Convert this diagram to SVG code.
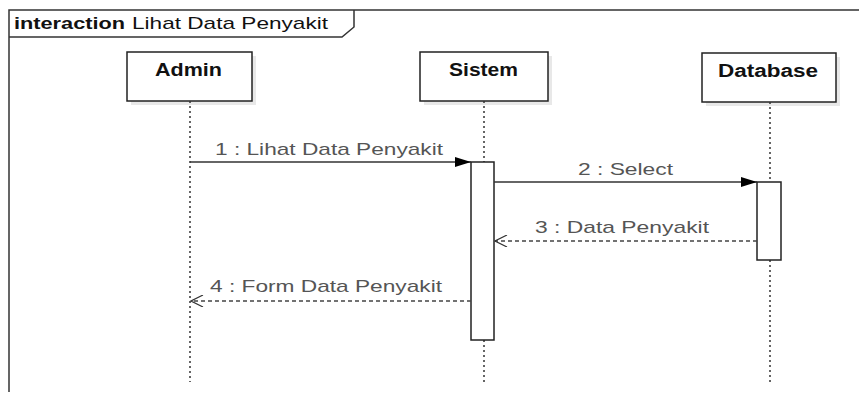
<svg xmlns="http://www.w3.org/2000/svg" width="859" height="396" viewBox="0 0 859 396">
  <defs>
    <marker id="filled" markerWidth="16" markerHeight="10" refX="16" refY="5" orient="auto" markerUnits="userSpaceOnUse">
      <path d="M0,0 L16,5 L0,10 Z" fill="#000"/>
    </marker>
    <marker id="open" markerWidth="14" markerHeight="12" refX="13" refY="6" orient="auto" markerUnits="userSpaceOnUse">
      <path d="M1,0 L13,6 L1,12" fill="none" stroke="#333" stroke-width="1.2"/>
    </marker>
  </defs>
  <style>
    .frame { fill: none; stroke: #333; stroke-width: 1.5; }
    .box { fill: #fff; stroke: #222; stroke-width: 1.5; }
    .shadow { fill: #e8e8e8; }
    .life { stroke: #333; stroke-width: 1.5; stroke-dasharray: 2 3; fill: none; }
    .act { fill: #fff; stroke: #222; stroke-width: 1.5; }
    .msg { stroke: #333; stroke-width: 1.3; fill: none; }
    .ret { stroke: #444; stroke-width: 1.3; fill: none; stroke-dasharray: 4 3; }
    .name { font-family: "Liberation Sans", Arial, sans-serif; font-size: 18px; font-weight: bold; fill: #111; }
    .lbl { font-family: "Liberation Sans", Arial, sans-serif; font-size: 17px; fill: #555; }
    .title { font-family: "Liberation Sans", Arial, sans-serif; font-size: 17px; fill: #111; }
  </style>

  <rect width="859" height="396" fill="#fff"/>

  <!-- interaction frame -->
  <g id="frame">
    <path class="frame" d="M9,392 L9,10 L870,10"/>
    <path class="frame" d="M9,37 L342,37 L354,27 L354,10"/>
    <text class="title" x="14" y="29"><tspan font-weight="bold" textLength="111" lengthAdjust="spacingAndGlyphs">interaction</tspan><tspan x="132" textLength="196" lengthAdjust="spacingAndGlyphs">Lihat Data Penyakit</tspan></text>
  </g>

  <!-- lifelines and their activations -->
  <g id="admin">
    <rect class="shadow" x="131" y="56" width="125" height="49"/>
    <rect class="box" x="127" y="52" width="125" height="49"/>
    <text class="name" x="155" y="76" textLength="67" lengthAdjust="spacingAndGlyphs">Admin</text>
    <line class="life" x1="190" y1="101" x2="190" y2="382"/>
  </g>

  <g id="sistem">
    <rect class="shadow" x="424" y="56" width="128" height="49"/>
    <rect class="box" x="420" y="52" width="128" height="49"/>
    <text class="name" x="449" y="76" textLength="69" lengthAdjust="spacingAndGlyphs">Sistem</text>
    <line class="life" x1="484" y1="101" x2="484" y2="162"/>
    <line class="life" x1="484" y1="340" x2="484" y2="382"/>
    <rect class="act" x="471" y="162" width="23" height="178"/>
  </g>

  <g id="database">
    <rect class="shadow" x="706" y="57" width="134" height="49"/>
    <rect class="box" x="702" y="53" width="134" height="49"/>
    <text class="name" x="718" y="77" textLength="100" lengthAdjust="spacingAndGlyphs">Database</text>
    <line class="life" x1="770" y1="102" x2="770" y2="182"/>
    <line class="life" x1="770" y1="260" x2="770" y2="382"/>
    <rect class="act" x="757" y="182" width="24" height="78"/>
  </g>

  <!-- messages -->
  <g id="connectors">
    <line class="msg" x1="190" y1="162" x2="471" y2="162" marker-end="url(#filled)"/>
    <text class="lbl" x="215" y="155" textLength="228" lengthAdjust="spacingAndGlyphs">1 : Lihat Data Penyakit</text>

    <line class="msg" x1="494" y1="182" x2="757" y2="182" marker-end="url(#filled)"/>
    <text class="lbl" x="578" y="175" textLength="95" lengthAdjust="spacingAndGlyphs">2 : Select</text>

    <line class="ret" x1="757" y1="241" x2="495" y2="241" marker-end="url(#open)"/>
    <text class="lbl" x="535" y="233" textLength="174" lengthAdjust="spacingAndGlyphs">3 : Data Penyakit</text>

    <line class="ret" x1="471" y1="301" x2="191" y2="301" marker-end="url(#open)"/>
    <text class="lbl" x="210" y="292" textLength="232" lengthAdjust="spacingAndGlyphs">4 : Form Data Penyakit</text>
  </g>
</svg>
